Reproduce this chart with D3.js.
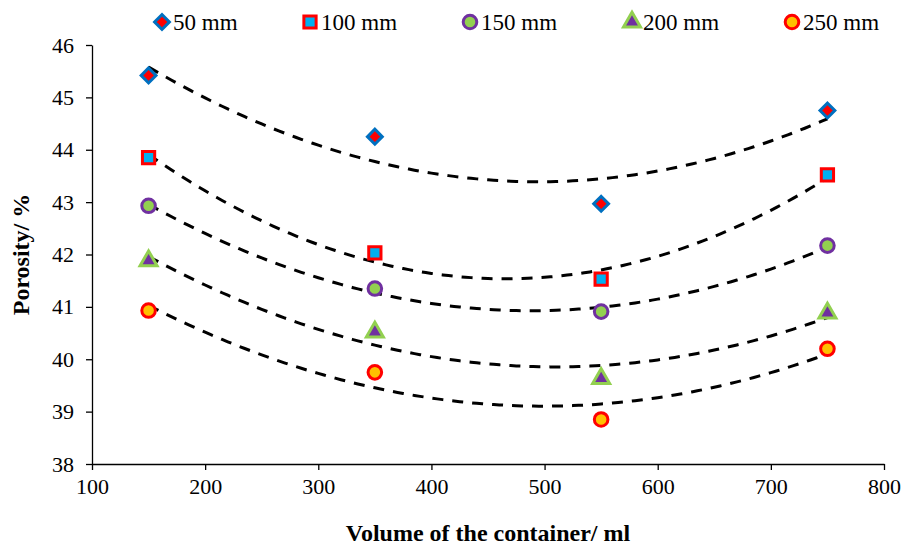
<!DOCTYPE html>
<html lang="en">
  <head>
    <meta charset="UTF-8" />
    <title>Porosity vs container volume</title>
    <script src="https://d3js.org/d3.v7.min.js"></script>
    <style>
      body {
        margin: 0;
        background: #fff;
      }
      text {
        font-family: "Liberation Serif", "Times New Roman", serif;
        fill: #000;
      }
      .tick text {
        font-size: 22px;
      }
      .axis-title {
        font-size: 24px;
        font-weight: bold;
      }
      .legend text {
        font-size: 23px;
      }
      .trend {
        fill: none;
        stroke: #000;
        stroke-width: 3;
        stroke-dasharray: 11 9;
      }
    </style>
  </head>
  <body>
    <svg width="912" height="548"></svg>
    <script>
      // data
      var volumes = [150, 350, 550, 750];
      var seriesNames = ["50 mm", "100 mm", "150 mm", "200 mm", "250 mm"];
      var s50 = [45.42, 44.25, 42.97, 44.75];
      var s100 = [43.85, 42.03, 41.53, 43.52];
      var s150 = [42.93, 41.35, 40.91, 42.17];
      var s200 = [41.88, 40.52, 39.63, 40.88];
      var s250 = [40.93, 39.75, 38.85, 40.2];
      var xTicks = [100, 200, 300, 400, 500, 600, 700, 800];
      var yTicks = [38, 39, 40, 41, 42, 43, 44, 45, 46];

      // diamond = square turned 45 degrees
      var styles = [
        { shape: d3.symbolSquare, rot: 45, size: 110, fill: "#ff0000", stroke: "#0070c0" },
        { shape: d3.symbolSquare, rot: 0, size: 150, fill: "#00b0f0", stroke: "#ff0000" },
        { shape: d3.symbolCircle, rot: 0, size: 145, fill: "#92d050", stroke: "#7030a0" },
        { shape: d3.symbolTriangle, rot: 0, size: 125, fill: "#7030a0", stroke: "#92d050" },
        { shape: d3.symbolCircle, rot: 0, size: 145, fill: "#ffc000", stroke: "#ff0000" }
      ];

      var allSeries = [s50, s100, s150, s200, s250];

      var svg = d3.select("svg");
      var mLeft = 92, mRight = 884, mTop = 45, mBottom = 464;

      var x = d3.scaleLinear().domain([100, 800]).range([mLeft, mRight]);
      var y = d3.scaleLinear().domain([38, 46]).range([mBottom, mTop]);

      // axes
      svg
        .append("g")
        .attr("transform", "translate(0," + mBottom + ")")
        .call(d3.axisBottom(x).tickValues(xTicks).tickSize(6).tickSizeOuter(0).tickPadding(8));
      svg
        .append("g")
        .attr("transform", "translate(" + mLeft + ",0)")
        .call(d3.axisLeft(y).tickValues(yTicks).tickSize(6).tickSizeOuter(0).tickPadding(12));
      svg.selectAll(".domain, .tick line").attr("stroke", "#000").attr("stroke-width", 1.3);

      // quadratic least-squares trendline (like the spreadsheet's poly 2)
      function polyFit(xs, ys) {
        var n = xs.length, S = [0, 0, 0, 0, 0], T = [0, 0, 0];
        for (var i = 0; i < n; i++) {
          for (var k = 0; k < 5; k++) S[k] += Math.pow(xs[i], k);
          for (var k = 0; k < 3; k++) T[k] += ys[i] * Math.pow(xs[i], k);
        }
        var A = [
          [S[0], S[1], S[2], T[0]],
          [S[1], S[2], S[3], T[1]],
          [S[2], S[3], S[4], T[2]]
        ];
        for (var c = 0; c < 3; c++) {
          for (var r = c + 1; r < 3; r++) {
            var f = A[r][c] / A[c][c];
            for (var j = c; j < 4; j++) A[r][j] -= f * A[c][j];
          }
        }
        var b = [0, 0, 0];
        for (var r = 2; r >= 0; r--) {
          var s = A[r][3];
          for (var j = r + 1; j < 3; j++) s -= A[r][j] * b[j];
          b[r] = s / A[r][r];
        }
        return function (v) {
          return b[0] + b[1] * v + b[2] * v * v;
        };
      }

      var line = d3
        .line()
        .x(function (d) { return x(d[0]); })
        .y(function (d) { return y(d[1]); });

      allSeries.forEach(function (vals) {
        var f = polyFit(volumes, vals);
        var pts = d3.range(150, 751, 5).map(function (v) { return [v, f(v)]; });
        svg.append("path").attr("class", "trend").attr("d", line(pts));
      });

      // markers
      allSeries.forEach(function (vals, i) {
        var st = styles[i];
        svg
          .append("g")
          .selectAll("path")
          .data(vals)
          .enter()
          .append("path")
          .attr("d", d3.symbol().type(st.shape).size(st.size))
          .attr("transform", function (d, j) {
            return "translate(" + x(volumes[j]) + "," + y(d) + ") rotate(" + st.rot + ")";
          })
          .attr("fill", st.fill)
          .attr("stroke", st.stroke)
          .attr("stroke-width", 3);
      });

      // legend
      var legendX = [162, 310, 470, 632, 792];
      var legend = svg.append("g").attr("class", "legend");
      seriesNames.forEach(function (name, i) {
        var st = styles[i];
        legend
          .append("path")
          .attr("d", d3.symbol().type(st.shape).size(st.size))
          .attr("transform", "translate(" + legendX[i] + ",22) rotate(" + st.rot + ")")
          .attr("fill", st.fill)
          .attr("stroke", st.stroke)
          .attr("stroke-width", 3);
        legend
          .append("text")
          .attr("x", legendX[i] + 11)
          .attr("y", 30)
          .text(name);
      });

      // axis titles
      svg
        .append("text")
        .attr("class", "axis-title")
        .attr("x", (mLeft + mRight) / 2)
        .attr("y", 541)
        .attr("text-anchor", "middle")
        .text("Volume of the container/ ml");
      svg
        .append("text")
        .attr("class", "axis-title")
        .attr("transform", "translate(29," + (mTop + mBottom) / 2 + ") rotate(-90)")
        .attr("text-anchor", "middle")
        .text("Porosity/ %");
    </script>
  </body>
</html>
